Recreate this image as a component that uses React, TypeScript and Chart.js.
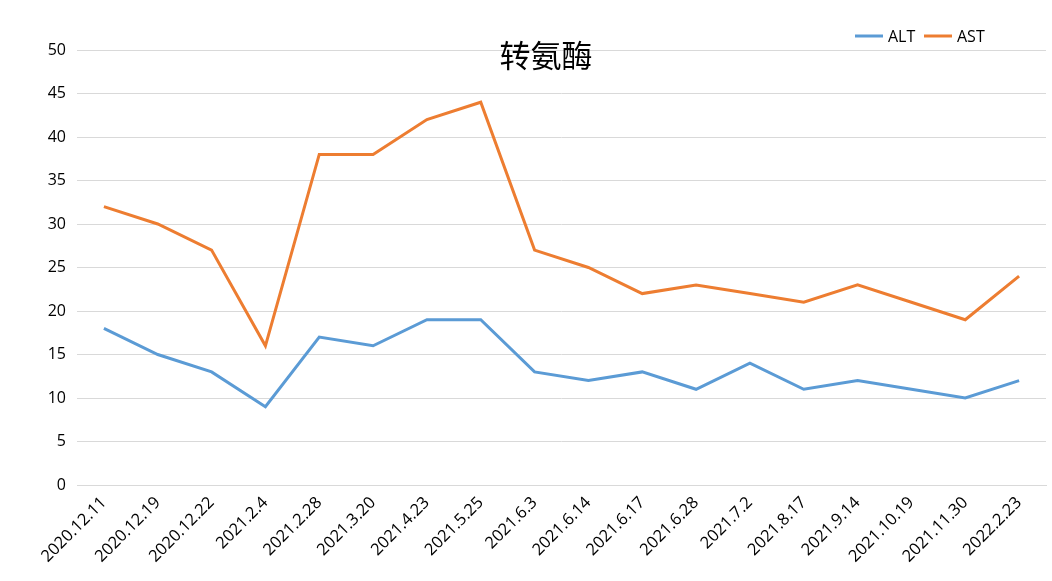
import React, { useEffect, useRef } from "react";
import { Chart, registerables } from "chart.js";

Chart.register(...registerables);

const categories = [
  "2020.12.11", "2020.12.19", "2020.12.22", "2021.2.4", "2021.2.28", "2021.3.20",
  "2021.4.23", "2021.5.25", "2021.6.3", "2021.6.14", "2021.6.17", "2021.6.28",
  "2021.7.2", "2021.8.17", "2021.9.14", "2021.10.19", "2021.11.30", "2022.2.23",
];
const altValues = [18, 15, 13, 9, 17, 16, 19, 19, 13, 12, 13, 11, 14, 11, 12, 11, 10, 12];
const astValues = [32, 30, 27, 16, 38, 38, 42, 44, 27, 25, 22, 23, 22, 21, 23, 21, 19, 24];
const titleText = "转氨酶";
const seriesNames = ["ALT", "AST"];
const seriesColors = ["#5B9BD5", "#ED7D31"];

const FONT = "'Open Sans', 'Noto Sans', sans-serif";

const overlayPlugin = {
  id: "overlay",
  afterDraw(chart: any) {
    const ctx = chart.ctx;
    ctx.save();
    // title
    ctx.fillStyle = "#000";
    ctx.font = `31px 'Noto Sans CJK SC', sans-serif`;
    ctx.textAlign = "center";
    ctx.textBaseline = "middle";
    ctx.fillText(titleText, 546, 55);
    // legend
    ctx.font = `16px ${FONT}`;
    ctx.textAlign = "left";
    const items = [
      { x: 855, name: seriesNames[0], color: seriesColors[0] },
      { x: 924, name: seriesNames[1], color: seriesColors[1] },
    ];
    const y = 36;
    for (const it of items) {
      ctx.strokeStyle = it.color;
      ctx.lineWidth = 3;
      ctx.beginPath();
      ctx.moveTo(it.x, y);
      ctx.lineTo(it.x + 28, y);
      ctx.stroke();
      ctx.fillStyle = "#000";
      ctx.fillText(it.name, it.x + 33, y + 1);
    }
    ctx.restore();
  },
};

export default function App() {
  const ref = useRef<HTMLCanvasElement>(null);
  useEffect(() => {
    if (!ref.current) return;
    const chart = new Chart(ref.current, {
      type: "line",
      data: {
        labels: categories,
        datasets: [
          {
            label: seriesNames[0],
            data: altValues,
            borderColor: seriesColors[0],
            backgroundColor: seriesColors[0],
            borderWidth: 3,
            pointRadius: 0,
            tension: 0,
          },
          {
            label: seriesNames[1],
            data: astValues,
            borderColor: seriesColors[1],
            backgroundColor: seriesColors[1],
            borderWidth: 3,
            pointRadius: 0,
            tension: 0,
          },
        ],
      },
      options: {
        animation: false,
        responsive: false,
        maintainAspectRatio: false,
        layout: { padding: { top: 50, right: 6, left: 0, bottom: 0 } },
        plugins: {
          legend: { display: false },
          title: { display: false },
          tooltip: { enabled: false },
        },
        scales: {
          x: {
            offset: true,
            grid: { display: false, drawTicks: false },
            border: { display: true, color: "#d9d9d9", width: 1 },
            ticks: {
              autoSkip: false,
              minRotation: 45,
              maxRotation: 45,
              color: "#000",
              padding: 8,
              font: { family: FONT, size: 16.5 },
            },
            afterFit(scale: any) {
              scale.height = 96;
            },
          },
          y: {
            min: 0,
            max: 50,
            ticks: {
              stepSize: 5,
              color: "#000",
              padding: 11,
              font: { family: FONT, size: 16 },
            },
            grid: { color: "#d9d9d9", drawTicks: false, lineWidth: 1 },
            border: { display: false },
            afterFit(scale: any) {
              scale.width = 77;
            },
          },
        },
      },
      plugins: [overlayPlugin],
    });
    return () => chart.destroy();
  }, []);
  return (
    <div style={{ position: "absolute", left: 0, top: 0, width: 1052, height: 581, background: "#fff" }}>
      <canvas ref={ref} width={1052} height={581} style={{ display: "block" }} />
    </div>
  );
}
